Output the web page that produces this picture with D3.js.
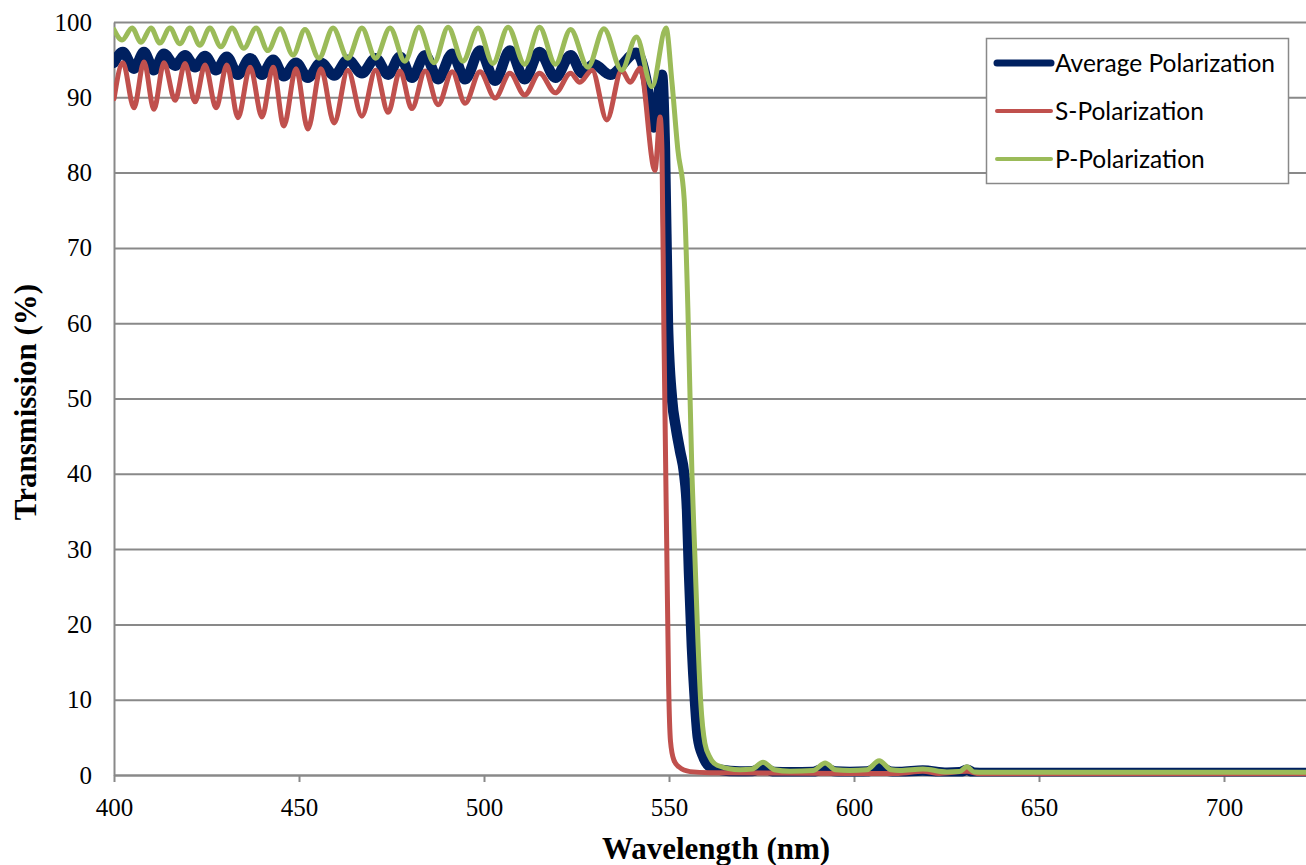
<!DOCTYPE html>
<html>
<head>
<meta charset="utf-8">
<script src="https://cdn.jsdelivr.net/npm/d3@7"></script>
<style>
  body { margin: 0; background: #fff; }
  svg { display: block; }
  .axis path, .axis line { stroke: #898989; stroke-width: 2px; }
  .axis text { font-family: "Liberation Serif", "Times New Roman", serif; }
  .title { font-family: "Liberation Serif", "Times New Roman", serif; font-size: 31px; font-weight: bold; }
  .legend text { font-family: Lato, "Open Sans", sans-serif; font-size: 24.5px; fill: #000; }
</style>
</head>
<body>
<div id="chart"></div>
<script>
// tick values
var wavelengthTicks = [400, 450, 500, 550, 600, 650, 700];
var transmissionTicks = [0, 10, 20, 30, 40, 50, 60, 70, 80, 90, 100];

var seriesNames = ['Average Polarization', 'S-Polarization', 'P-Polarization'];
var seriesColors = ['#002060', '#C0504D', '#9BBB59'];

// [wavelength nm, transmission %] (peaks / troughs / knees)
var avgPolarization = [
  [400.0, 94.6], [402.4, 96.0], [405.4, 93.8], [408.1, 96.0], [410.8, 93.6], [413.5, 95.8],
  [416.5, 94.2], [419.2, 95.6], [421.9, 94.0], [424.6, 95.5], [427.6, 93.6], [430.5, 95.4],
  [433.5, 93.0], [436.8, 95.2], [440.0, 93.0], [443.0, 95.0], [445.9, 92.8], [449.2, 94.6],
  [452.4, 92.6], [455.9, 94.6], [459.5, 92.9], [463.2, 95.0], [467.0, 93.2], [470.7, 95.2],
  [474.1, 93.0], [477.3, 95.4], [480.5, 92.6], [484.1, 95.6], [487.6, 92.4], [491.4, 95.8],
  [494.9, 92.4], [498.9, 96.2], [503.0, 92.2], [507.0, 96.2], [511.0, 92.4], [515.0, 96.0],
  [519.3, 92.6], [523.4, 95.6], [526.5, 93.2], [529.7, 94.4], [534.1, 93.0], [541.2, 95.9],
  [543.8, 92.5], [545.9, 86.0], [548.1, 93.0], [548.9, 83], [549.7, 60], [550.8, 50],
  [551.9, 46], [553.0, 43], [554.1, 40], [554.9, 35], [555.4, 27], [556.2, 17], [557.0, 10],
  [557.8, 5], [559.2, 2.5], [561.1, 1.1], [563.8, 0.7], [569.2, 0.45], [572.5, 0.5],
  [575.4, 1.0], [578.5, 0.4], [582.7, 0.35], [589.0, 0.4], [592.2, 0.9], [595.0, 0.45],
  [598.9, 0.4], [603.5, 0.45], [606.8, 1.1], [610.0, 0.45], [612.4, 0.4], [618.6, 0.6],
  [625.1, 0.3], [628.5, 0.35], [630.5, 0.7], [632.5, 0.3], [635.4, 0.25], [750.0, 0.25]
];

var sPolarization = [
  [400.0, 89.8], [402.4, 94.6], [405.4, 88.6], [408.1, 94.7], [410.8, 88.4], [413.5, 94.6],
  [416.5, 89.6], [419.2, 94.5], [421.9, 89.4], [424.6, 94.3], [427.6, 88.6], [430.5, 94.3],
  [433.5, 87.3], [436.8, 94.0], [440.0, 87.4], [443.0, 94.0], [445.9, 86.2], [449.2, 93.8],
  [452.4, 85.8], [455.9, 93.8], [459.5, 86.6], [463.2, 93.6], [467.0, 87.5], [470.7, 93.6],
  [474.1, 88.0], [477.3, 93.5], [480.5, 88.5], [484.1, 93.5], [487.6, 89.0], [491.4, 93.4],
  [494.9, 89.2], [498.9, 93.4], [503.0, 89.9], [507.0, 93.2], [511.0, 90.3], [515.0, 93.2],
  [519.3, 90.6], [523.4, 93.2], [525.9, 92.0], [529.2, 93.6], [533.2, 87.0], [537.2, 93.6],
  [539.5, 92.0], [542.2, 93.9], [546.2, 80.3], [547.6, 87.4], [548.1, 83], [548.6, 60],
  [549.4, 30], [549.9, 12], [550.4, 4.5], [551.3, 2.0], [552.6, 1.1], [555.7, 0.45],
  [561.1, 0.3], [612.0, 0.2], [618.6, 0.5], [623.0, 0.2], [630.5, 0.5], [634.0, 0.15],
  [750.0, 0.15]
];

var pPolarization = [
  [400.0, 99.0], [402.2, 97.6], [404.9, 99.2], [407.3, 97.3], [410.0, 99.2], [412.4, 97.2],
  [415.1, 99.2], [417.8, 97.1], [420.5, 99.2], [423.2, 96.9], [425.9, 99.2], [428.9, 96.7],
  [431.9, 99.2], [435.1, 96.5], [438.4, 99.2], [441.6, 96.2], [444.9, 99.1], [448.4, 95.6],
  [451.6, 99.0], [455.4, 95.2], [459.2, 99.2], [463.2, 95.2], [467.0, 99.2], [470.7, 95.2],
  [474.6, 99.2], [478.6, 94.8], [482.4, 99.3], [486.5, 94.6], [490.3, 99.3], [494.3, 94.8],
  [498.4, 99.2], [502.4, 94.5], [506.5, 99.3], [511.0, 94.4], [515.0, 99.3], [519.3, 94.4],
  [523.4, 99.0], [528.1, 94.0], [532.4, 99.1], [537.2, 93.6], [541.2, 98.0], [545.4, 91.4],
  [549.2, 99.2], [550.8, 92], [552.4, 83], [554.1, 76.5], [555.1, 62], [556.2, 40],
  [557.0, 29], [557.8, 18], [558.6, 9.5], [559.7, 4.2], [561.1, 2.3], [563.0, 1.3],
  [569.2, 0.7], [572.5, 0.8], [575.4, 1.7], [578.5, 0.7], [582.7, 0.5], [589.0, 0.6],
  [592.2, 1.6], [595.0, 0.7], [598.9, 0.6], [603.5, 0.7], [606.8, 1.9], [610.0, 0.7],
  [612.4, 0.6], [618.6, 0.8], [625.1, 0.4], [628.5, 0.45], [630.5, 1.1], [632.5, 0.4],
  [635.4, 0.35], [750.0, 0.35]
];

var width = 1306, height = 865;
var margin = {left: 114, top: 22};
var plotW = 1295, plotH = 753;   // plot runs past the right edge of the picture

var svg = d3.select('#chart').append('svg')
  .attr('width', width)
  .attr('height', height);

var x = d3.scaleLinear().domain([400, 750]).range([margin.left, margin.left + plotW]);
var y = d3.scaleLinear().domain([0, 100]).range([margin.top + plotH, margin.top]);

var serif = '"Liberation Serif", "Times New Roman", serif';

// y axis + horizontal gridlines
var yAxis = d3.axisLeft(y)
  .tickValues(transmissionTicks)
  .tickSizeInner(-plotW)
  .tickSizeOuter(0)
  .tickPadding(22);
svg.append('g')
  .attr('class', 'axis y-axis')
  .attr('transform', 'translate(' + margin.left + ',0)')
  .attr('font-family', serif)
  .call(yAxis)
  .selectAll('text')
  .style('font-family', serif)
  .style('font-size', '25px')
  .style('fill', '#000');

var xAxis = d3.axisBottom(x)
  .tickValues(wavelengthTicks)
  .tickSizeInner(7)
  .tickSizeOuter(0)
  .tickPadding(16);
svg.append('g')
  .attr('class', 'axis x-axis')
  .attr('transform', 'translate(0,' + (margin.top + plotH) + ')')
  .call(xAxis)
  .selectAll('text')
  .style('font-family', serif)
  .style('font-size', '25px')
  .style('fill', '#000');

svg.append('defs').append('clipPath').attr('id', 'plot-clip')
  .append('rect')
  .attr('x', margin.left).attr('y', 0)
  .attr('width', plotW).attr('height', margin.top + plotH + 1.5);

var line = d3.line()
  .x(function(d) { return x(d[0]); })
  .y(function(d) { return y(d[1]); })
  .curve(d3.curveMonotoneX);

var seriesData = [avgPolarization, sPolarization, pPolarization];
var seriesWidths = [10.5, 5, 5];

svg.append('g').attr('clip-path', 'url(#plot-clip)')
  .selectAll('path.series')
  .data(seriesData)
  .enter()
  .append('path')
  .attr('class', 'series')
  .attr('d', line)
  .attr('fill', 'none')
  .attr('stroke', function(d, i) { return seriesColors[i]; })
  .attr('stroke-width', function(d, i) { return seriesWidths[i]; })
  .attr('stroke-linejoin', 'round')
  .attr('stroke-linecap', 'round');

// axis titles
svg.append('text')
  .attr('class', 'title')
  .attr('x', 716)
  .attr('y', 859)
  .attr('text-anchor', 'middle')
  .text('Wavelength (nm)');

svg.append('text')
  .attr('class', 'title')
  .attr('transform', 'translate(36,402) rotate(-90)')
  .attr('text-anchor', 'middle')
  .text('Transmission (%)');

// legend
var legend = svg.append('g').attr('class', 'legend');
legend.append('rect')
  .attr('x', 986.5).attr('y', 38.5)
  .attr('width', 302).attr('height', 145)
  .attr('fill', '#fff')
  .attr('stroke', '#898989')
  .attr('stroke-width', 1.5);

var legendWidths = [7, 4, 4];
var item = legend.selectAll('g.item')
  .data(seriesNames)
  .enter()
  .append('g')
  .attr('class', 'item')
  .attr('transform', function(d, i) { return 'translate(0,' + (63 + i * 48) + ')'; });

item.append('line')
  .attr('x1', 997).attr('x2', 1051)
  .attr('y1', 0).attr('y2', 0)
  .attr('stroke', function(d, i) { return seriesColors[i]; })
  .attr('stroke-width', function(d, i) { return legendWidths[i]; })
  .attr('stroke-linecap', 'round');

item.append('text')
  .attr('x', 1055)
  .attr('y', 0)
  .attr('dy', '0.35em')
  .text(function(d) { return d; });
</script>
</body>
</html>
